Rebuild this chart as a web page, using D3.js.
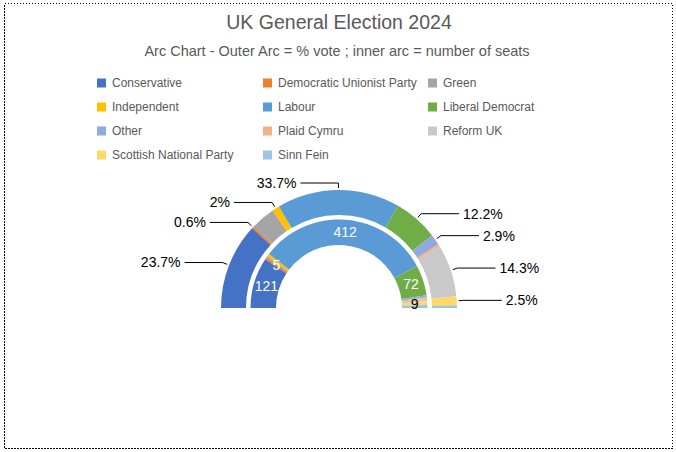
<!DOCTYPE html>
<html>
<head>
<meta charset="utf-8">
<script src="https://cdn.jsdelivr.net/npm/d3@7"></script>
<style>
  body { margin: 0; background: #fff; }
  text { font-family: "Liberation Sans", Arial, sans-serif; }
</style>
</head>
<body>
<div class="viz"></div>
<script>
const parties = ["Conservative", "Democratic Unionist Party", "Green", "Independent", "Labour",
  "Liberal Democrat", "Other", "Plaid Cymru", "Reform UK", "Scottish National Party", "Sinn Fein"];
const voteShare = [23.7, 0.6, 6.7, 2, 33.7, 12.2, 2.9, 0.7, 14.3, 2.5, 0.7];
const seats = [121, 5, 4, 6, 412, 72, 5, 4, 5, 9, 7];
const colours = ["#4472C4", "#ED7D31", "#A5A5A5", "#FFC000", "#5B9BD5", "#70AD47",
  "#8FAADC", "#F4B183", "#C9C9C9", "#FFD966", "#9DC3E6"];
// which slices carry a data label in the original
const voteLabelled = ["Conservative", "Democratic Unionist Party", "Independent", "Labour",
  "Liberal Democrat", "Other", "Reform UK", "Scottish National Party"];
const seatLabelled = ["Conservative", "Democratic Unionist Party", "Labour", "Liberal Democrat",
  "Scottish National Party"];

const width = 676, height = 452;
const cx = 339, cy = 308;
const outerR = [93, 118], innerR = [63, 88.5];

const svg = d3.select(".viz").append("svg")
  .attr("width", width)
  .attr("height", height)
  .style("display", "block");

svg.append("rect")
  .attr("x", 4.5).attr("y", 3.5)
  .attr("width", 668).attr("height", 445)
  .attr("fill", "#fff")
  .attr("stroke", "#000")
  .attr("stroke-dasharray", "1.5,1.5")
  .attr("shape-rendering", "crispEdges");

svg.append("text")
  .attr("x", cx).attr("y", 29)
  .attr("text-anchor", "middle")
  .attr("fill", "#595959")
  .style("font-size", "19.5px")
  .text("UK General Election 2024");

svg.append("text")
  .attr("x", 337).attr("y", 56)
  .attr("text-anchor", "middle")
  .attr("fill", "#595959")
  .style("font-size", "14.5px")
  .text("Arc Chart - Outer Arc = % vote ; inner arc = number of seats");

// legend, 3 columns
const legendX = [97, 263, 428];
const legend = svg.append("g").selectAll("g")
  .data(parties)
  .enter().append("g")
  .attr("transform", (d, i) => `translate(${legendX[i % 3]}, ${83 + Math.floor(i / 3) * 24})`);
legend.append("rect")
  .attr("x", 0).attr("y", -4.5)
  .attr("width", 9).attr("height", 9)
  .attr("fill", (d, i) => colours[i]);
legend.append("text")
  .attr("x", 15).attr("y", 0)
  .attr("dy", "0.35em")
  .attr("fill", "#595959")
  .style("font-size", "12px")
  .text(d => d);

const pie = d3.pie()
  .sort(null)
  .startAngle(-Math.PI / 2)
  .endAngle(Math.PI / 2);

const rows = parties.map((p, i) => ({ party: p, vote: voteShare[i], seats: seats[i], colour: colours[i] }));

const g = svg.append("g").attr("transform", `translate(${cx}, ${cy})`);

const outerArc = d3.arc().innerRadius(outerR[0]).outerRadius(outerR[1]);
const innerArc = d3.arc().innerRadius(innerR[0]).outerRadius(innerR[1]);

const voteArcs = pie.value(d => d.vote)(rows);
const seatArcs = pie.value(d => d.seats)(rows);

g.append("g").selectAll("path")
  .data(voteArcs)
  .enter().append("path")
  .attr("d", outerArc)
  .attr("fill", d => d.data.colour);

g.append("g").selectAll("path")
  .data(seatArcs)
  .enter().append("path")
  .attr("d", innerArc)
  .attr("fill", d => d.data.colour);

// seat labels inside the inner arc
g.append("g").selectAll("text")
  .data(seatArcs.filter(d => seatLabelled.includes(d.data.party)))
  .enter().append("text")
  .attr("transform", d => `translate(${innerArc.centroid(d)})`)
  .attr("text-anchor", "middle")
  .attr("dy", "0.35em")
  .attr("fill", d => d.data.party === "Scottish National Party" ? "#000" : "#fff")
  .style("font-size", "14px")
  .text(d => d.data.seats);

// vote labels with leader lines
const anchorArc = d3.arc().innerRadius(outerR[1] + 2).outerRadius(outerR[1] + 2);
const elbowArc = d3.arc().innerRadius(outerR[1] + 7).outerRadius(outerR[1] + 7);
const lineLen = 38;

const voteLabels = g.append("g").selectAll("g")
  .data(voteArcs.filter(d => voteLabelled.includes(d.data.party)))
  .enter().append("g");

voteLabels.each(function (d) {
  const mid = (d.startAngle + d.endAngle) / 2;
  const side = mid < 0 ? -1 : 1;
  const a = anchorArc.centroid(d);
  const e = elbowArc.centroid(d);
  const end = [e[0] + side * lineLen, e[1]];
  const sel = d3.select(this);
  sel.append("polyline")
    .attr("points", [a, e, end].map(p => p.join(",")).join(" "))
    .attr("fill", "none")
    .attr("stroke", "#000")
    .attr("stroke-width", 1);
  sel.append("text")
    .attr("x", end[0] + side * 4)
    .attr("y", end[1])
    .attr("dy", "0.35em")
    .attr("text-anchor", side < 0 ? "end" : "start")
    .attr("fill", "#000")
    .style("font-size", "14px")
    .text(`${d.data.vote}%`);
});
</script>
</body>
</html>
